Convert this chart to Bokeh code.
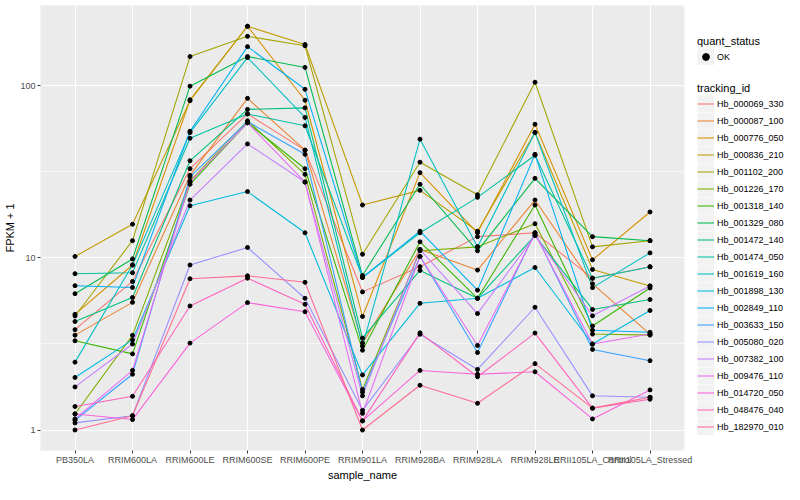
from bokeh.plotting import figure
from bokeh.models import FactorRange, Range1d, FixedTicker, Legend, LegendItem
from bokeh.layouts import row
from bokeh.embed import file_html
from bokeh.resources import INLINE

samples = ["PB350LA", "RRIM600LA", "RRIM600LE", "RRIM600SE", "RRIM600PE", "RRIM901LA",
           "RRIM928BA", "RRIM928LA", "RRIM928LE", "RRII105LA_Control", "RRII105LA_Stressed"]

tracking_ids = ["Hb_000069_330", "Hb_000087_100", "Hb_000776_050", "Hb_000836_210",
                "Hb_001102_200", "Hb_001226_170", "Hb_001318_140", "Hb_001329_080",
                "Hb_001472_140", "Hb_001474_050", "Hb_001619_160", "Hb_001898_130",
                "Hb_002849_110", "Hb_003633_150", "Hb_005080_020", "Hb_007382_100",
                "Hb_009476_110", "Hb_014720_050", "Hb_048476_040", "Hb_182970_010"]

colors = ["#F8766D", "#EA8331", "#D89000", "#C09B00", "#A3A500", "#7CAE00", "#39B600",
          "#00BB4E", "#00BF7D", "#00C1A3", "#00BFC4", "#00BAE0", "#00B0F6", "#35A2FF",
          "#9590FF", "#C77CFF", "#E76BF3", "#FA62DB", "#FF62BC", "#FF6C91"]

# FPKM + 1 per sample (order of `samples`)
hb_000069_330 = [3.83, 7.3, 33.0, 68.7, 42.3, 6.35, 8.9, 13.3, 14.0, 7.63, 8.9]
hb_000087_100 = [3.56, 5.52, 30.2, 84.6, 42.3, 3.2, 11.2, 8.5, 21.7, 7.07, 3.61]
hb_000776_050 = [4.7, 9.1, 83.0, 222.0, 82.5, 4.57, 31.3, 14.0, 59.8, 9.75, 18.5]
hb_000836_210 = [10.2, 15.7, 82.0, 222.0, 174.0, 20.3, 24.7, 14.3, 53.6, 8.57, 6.87]
hb_001102_200 = [4.6, 12.6, 148.0, 194.0, 171.0, 10.5, 36.0, 23.3, 105.0, 11.6, 12.6]
hb_001226_170 = [1.24, 3.55, 28.0, 62.7, 30.6, 1.72, 11.0, 11.6, 15.8, 3.61, 3.56]
hb_001318_140 = [3.3, 2.77, 26.8, 61.0, 33.0, 2.91, 12.4, 5.83, 20.3, 4.02, 6.69]
hb_001329_080 = [6.2, 9.87, 99.6, 148.0, 128.0, 7.9, 26.8, 11.0, 29.0, 13.3, 12.6]
hb_001472_140 = [4.27, 5.89, 36.7, 73.0, 74.5, 3.42, 8.46, 5.83, 13.5, 5.02, 5.73]
hb_001474_050 = [8.1, 8.2, 49.6, 68.7, 58.6, 7.7, 14.0, 22.5, 39.5, 7.63, 8.87]
hb_001619_160 = [2.48, 9.1, 53.5, 146.0, 65.5, 3.07, 49.0, 11.6, 53.6, 6.72, 10.7]
hb_001898_130 = [2.02, 3.34, 20.1, 24.3, 14.0, 2.09, 5.45, 5.83, 8.8, 3.16, 4.95]
hb_002849_110 = [6.9, 6.74, 54.5, 169.0, 95.5, 7.7, 14.3, 6.5, 40.0, 3.8, 3.7]
hb_003633_150 = [1.14, 2.11, 29.6, 62.0, 40.0, 1.66, 10.2, 2.82, 14.0, 2.94, 2.53]
hb_005080_020 = [1.1, 1.21, 9.1, 11.5, 5.83, 1.3, 3.6, 2.25, 5.17, 1.58, 1.55]
hb_007382_100 = [1.78, 3.16, 21.7, 46.0, 27.6, 1.58, 11.2, 4.75, 13.5, 4.61, 6.87]
hb_009476_110 = [1.16, 2.22, 27.6, 61.0, 27.6, 1.25, 10.2, 3.1, 13.8, 3.16, 3.61]
hb_014720_050 = [1.24, 1.15, 3.2, 5.5, 4.87, 1.13, 2.22, 2.11, 2.18, 1.16, 1.71]
hb_048476_040 = [1.37, 1.57, 5.26, 7.63, 5.38, 1.13, 3.67, 2.04, 3.66, 1.34, 1.51]
hb_182970_010 = [1.0, 1.21, 7.57, 7.87, 7.22, 1.0, 1.82, 1.43, 2.43, 1.34, 1.55]

series = [hb_000069_330, hb_000087_100, hb_000776_050, hb_000836_210, hb_001102_200,
          hb_001226_170, hb_001318_140, hb_001329_080, hb_001472_140, hb_001474_050,
          hb_001619_160, hb_001898_130, hb_002849_110, hb_003633_150, hb_005080_020,
          hb_007382_100, hb_009476_110, hb_014720_050, hb_048476_040, hb_182970_010]

quant_status = ["OK"]
y_ticks = [1, 10, 100]
y_minor = [0.3162, 3.162, 31.62, 316.2]

FONT = "Liberation Sans"

# ---- layout geometry (pixels) ----
FIG_H = 484
MAIN_W = 695
LEG_W = 784 - MAIN_W
B_LEFT, B_RIGHT, B_TOP, B_BOTTOM = 40, 11, 5, 34
# log10 extent of the panel
LOG_TOP, LOG_BOT = 2.467, -0.119

p = figure(width=MAIN_W, height=FIG_H,
           x_range=FactorRange(factors=samples, range_padding=0.1, range_padding_units="absolute"),
           y_range=Range1d(10 ** LOG_BOT, 10 ** LOG_TOP), y_axis_type="log",
           output_backend="svg", toolbar_location=None,
           min_border_left=B_LEFT, min_border_right=B_RIGHT,
           min_border_top=B_TOP, min_border_bottom=B_BOTTOM)
p.background_fill_color = "#EBEBEB"
p.border_fill_color = "white"
p.outline_line_color = None

for vals, col in zip(series, colors):
    p.line(samples, vals, line_color=col, line_width=1.07)
for vals in series:
    p.scatter(samples, vals, size=4, color="black")

p.yaxis.ticker = FixedTicker(ticks=y_ticks, minor_ticks=y_minor)
p.yaxis.major_label_overrides = {t: str(t) for t in y_ticks}
p.xgrid.grid_line_color = "white"
p.xgrid.grid_line_width = 1.1
p.ygrid.grid_line_color = "white"
p.ygrid.grid_line_width = 1.1
p.ygrid.minor_grid_line_color = "white"
p.ygrid.minor_grid_line_width = 0.55

for ax in (p.xaxis, p.yaxis):
    ax.axis_line_color = None
    ax.major_tick_line_color = "#333333"
    ax.major_tick_line_width = 1
    ax.major_tick_out = 3
    ax.major_tick_in = 0
    ax.minor_tick_line_color = None
    ax.major_label_text_font = FONT
    ax.major_label_text_font_size = "9px"
    ax.major_label_text_color = "#4D4D4D"
    ax.major_label_standoff = 1
    ax.axis_label_text_font = FONT
    ax.axis_label_text_font_size = "11px"
    ax.axis_label_text_font_style = "normal"
    ax.axis_label_text_color = "black"
    ax.axis_label_standoff = 1
p.xaxis.axis_label = "sample_name"
p.yaxis.axis_label = "FPKM + 1"

# ---- legend panel (separate figure to the right) ----
lf = figure(width=LEG_W, height=FIG_H, output_backend="svg", toolbar_location=None,
            x_axis_type=None, y_axis_type=None,
            min_border_left=0, min_border_right=0,
            min_border_top=B_TOP, min_border_bottom=B_BOTTOM,
            x_range=Range1d(0, 1), y_range=Range1d(0, 1))
lf.outline_line_color = None
lf.background_fill_color = "white"
lf.border_fill_color = "white"

# legend-key renderers, their single point lies outside the (invisible) ranges
key_bg = lf.line(x=[-10, -9], y=[-10, -10], line_color="#F2F2F2", line_width=17)
dot = lf.scatter(x=[-10], y=[-10], size=4, color="black")
line_rs = [lf.line(x=[-10, -9], y=[-10, -10], line_color=c, line_width=1.07) for c in colors]


def style(leg):
    leg.border_line_color = None
    leg.background_fill_alpha = 0
    leg.padding = 0
    leg.margin = 0
    leg.spacing = 0
    leg.glyph_width = 17
    leg.glyph_height = 17
    leg.label_height = 17
    leg.label_standoff = 3
    leg.label_text_font = FONT
    leg.label_text_font_size = "9px"
    leg.label_text_color = "black"
    leg.title_text_font = FONT
    leg.title_text_font_size = "11px"
    leg.title_text_font_style = "normal"
    leg.title_text_color = "black"
    leg.title_standoff = 1


frame_bottom = FIG_H - B_BOTTOM
leg1 = Legend(items=[LegendItem(label=quant_status[0], renderers=[key_bg, dot])],
              title="quant_status", location=(2, frame_bottom - 65))
style(leg1)
leg2 = Legend(items=[LegendItem(label=t, renderers=[key_bg, r]) for t, r in zip(tracking_ids, line_rs)],
              title="tracking_id", location=(2, frame_bottom - 435))
style(leg2)
lf.add_layout(leg1, "center")
lf.add_layout(leg2, "center")

layout = row(p, lf)
open("out.html", "w").write(file_html(layout, INLINE))
